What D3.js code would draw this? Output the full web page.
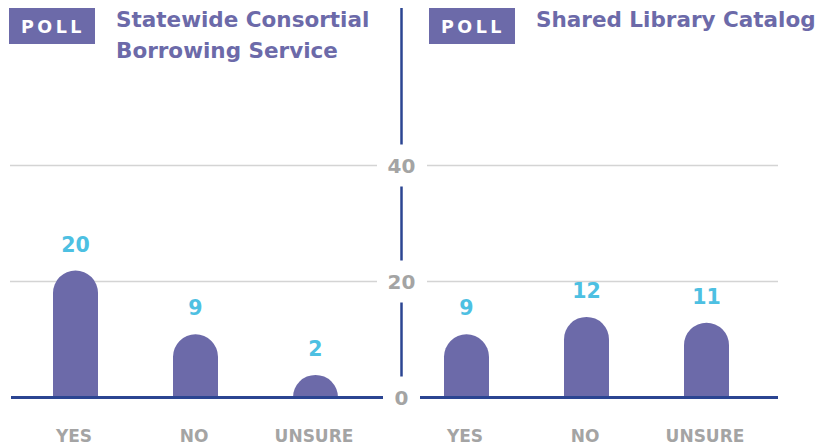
<!DOCTYPE html>
<html>
<head>
<meta charset="utf-8">
<script src="https://cdn.jsdelivr.net/npm/d3@7"></script>
<style>
  body { margin: 0; background: #fff; }
  text { font-family: "DejaVu Sans", sans-serif; }
</style>
</head>
<body>
<svg id="chart" width="835" height="446"></svg>
<script>
const categories = ["YES", "NO", "UNSURE"];
const consortialVotes = [20, 9, 2];
const catalogVotes = [9, 12, 11];
const yTicks = [0, 20, 40];
const pollTitles = [
  ["Statewide Consortial", "Borrowing Service"],
  ["Shared Library Catalog"],
];

const purple = "#6c6aa9",
  navy = "#2b4592",
  cyan = "#4dc0e2",
  gray = "#a4a4a4",
  grid = "#d4d4d4";

const svg = d3.select("#chart");
const y = d3.scaleLinear().domain([0, 40]).range([397.5, 165.5]);
const axisX = 401.5;
const capOffset = 11; // rounded caps rise a bit past the value
const r = 22.5;

const panels = [
  { values: consortialVotes, title: pollTitles[0], left: 9, band: [15.5, 375.5], grid: [10, 377], base: [11, 383] },
  { values: catalogVotes, title: pollTitles[1], left: 429, band: [406.5, 766.5], grid: [427, 778], base: [420, 778] },
];

panels.forEach((p) => {
  const g = svg.append("g");

  // poll tag + title
  g.append("rect")
    .attr("x", p.left).attr("y", 8)
    .attr("width", 86).attr("height", 36)
    .attr("fill", purple);
  g.append("text")
    .attr("x", p.left + 44).attr("y", 32.5)
    .attr("text-anchor", "middle")
    .attr("fill", "#fff")
    .attr("font-size", 17.5).attr("font-weight", "bold")
    .attr("letter-spacing", 3.5)
    .text("POLL");
  g.selectAll(".title")
    .data(p.title)
    .join("text")
    .attr("class", "title")
    .attr("x", p.left + 107)
    .attr("y", (d, i) => 27 + i * 31)
    .attr("fill", purple)
    .attr("font-size", 21.5).attr("font-weight", "bold")
    .text((d) => d);

  const x = d3.scaleBand().domain(categories).range(p.band).paddingInner(0.625).paddingOuter(0.3125);

  // gridlines
  g.selectAll(".grid")
    .data(yTicks.filter((t) => t > 0))
    .join("line")
    .attr("x1", p.grid[0]).attr("x2", p.grid[1])
    .attr("y1", (d) => y(d)).attr("y2", (d) => y(d))
    .attr("stroke", grid).attr("stroke-width", 1.5);

  const data = categories.map((c, i) => ({ cat: c, v: p.values[i] }));

  g.selectAll(".bar")
    .data(data)
    .join("path")
    .attr("class", "bar")
    .attr("fill", purple)
    .attr("d", (d) => {
      const x0 = x(d.cat), x1 = x0 + x.bandwidth();
      const base = y(0);
      const top = Math.min(y(d.v) - capOffset, base - r);
      return `M${x0},${base}V${top + r}A${r},${r} 0 0 1 ${x1},${top + r}V${base}Z`;
    });

  g.selectAll(".val")
    .data(data)
    .join("text")
    .attr("x", (d) => x(d.cat) + x.bandwidth() / 2)
    .attr("y", (d) => Math.min(y(d.v) - capOffset, y(0) - r) - 19)
    .attr("text-anchor", "middle")
    .attr("fill", cyan)
    .attr("font-size", 20.5).attr("font-weight", "bold")
    .text((d) => d.v);

  g.selectAll(".cat")
    .data(data)
    .join("text")
    .attr("x", (d) => x(d.cat) + x.bandwidth() / 2 - 1.5)
    .attr("y", 442)
    .attr("text-anchor", "middle")
    .attr("fill", gray)
    .attr("font-size", 17).attr("font-weight", "bold")
    .text((d) => d.cat);

  // baseline
  g.append("line")
    .attr("x1", p.base[0]).attr("x2", p.base[1])
    .attr("y1", y(0)).attr("y2", y(0))
    .attr("stroke", navy).attr("stroke-width", 3);
});

// shared middle axis, broken around its labels
const gap = 21;
const segs = [[8, y(40) - gap]];
for (let i = yTicks.length - 1; i > 0; i--) {
  segs.push([y(yTicks[i]) + gap, y(yTicks[i - 1]) - gap]);
}
svg.selectAll(".axisSeg")
  .data(segs)
  .join("line")
  .attr("x1", axisX).attr("x2", axisX)
  .attr("y1", (d) => d[0]).attr("y2", (d) => d[1])
  .attr("stroke", navy).attr("stroke-width", 2.5);

svg.selectAll(".tick")
  .data(yTicks)
  .join("text")
  .attr("x", axisX)
  .attr("y", (d) => y(d) + 7.5)
  .attr("text-anchor", "middle")
  .attr("fill", gray)
  .attr("font-size", 20).attr("font-weight", "bold")
  .text((d) => d);
</script>
</body>
</html>
